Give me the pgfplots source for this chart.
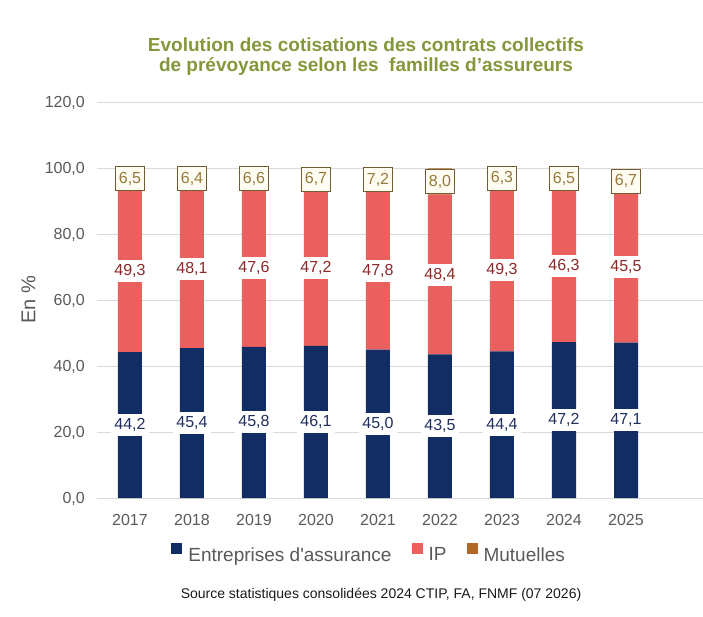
\documentclass[border=0pt]{standalone}
\usepackage{pgfplots}
\pgfplotsset{compat=1.18}
\usepackage{pgfplotstable}
\usepackage{fontspec}
\setmainfont{Liberation Sans}
\definecolor{navy}{RGB}{18,44,100}
\definecolor{ipred}{RGB}{233,96,94}
\definecolor{mutbrown}{RGB}{178,104,40}
\definecolor{titleolive}{RGB}{132,151,60}
\definecolor{tickgray}{RGB}{89,89,89}
\definecolor{navytext}{RGB}{31,47,94}
\definecolor{iptext}{RGB}{140,40,40}
\definecolor{muttext}{RGB}{150,122,60}
\definecolor{mutborder}{RGB}{115,92,50}
\definecolor{mutfill}{RGB}{255,252,242}
\pgfplotstableread{
x year ent ip mut
0 2017 44.2 49.3 6.5
1 2018 45.4 48.1 6.4
2 2019 45.8 47.6 6.6
3 2020 46.1 47.2 6.7
4 2021 45.0 47.8 7.2
5 2022 43.5 48.4 8.0
6 2023 44.4 49.3 6.3
7 2024 47.2 46.3 6.5
8 2025 47.1 45.5 6.7
}\datatable
\begin{document}
\begin{tikzpicture}
\path[use as bounding box] (0,0) rectangle (703pt,616pt);
\begin{axis}[
  at={(97pt,118pt)}, anchor=south west,
  scale only axis, width=606pt, height=396pt,
  ybar stacked, bar width=24pt,
  xmin=-0.532, xmax=9.242, ymin=0, ymax=120,
  ytick={0,20,...,120},
  xtick={0,...,8},
  xticklabels={2017,2018,2019,2020,2021,2022,2023,2024,2025},
  ymajorgrids, grid style={draw=black!15, line width=0.8pt},
  axis line style={draw=none},
  major tick length=0pt,
  clip=false,
  /pgf/number format/.cd, assume math mode=true, use comma, fixed, fixed zerofill, precision=1,
  /pgfplots/.cd,
  ticklabel style={font=\fontsize{16}{19}\selectfont, text=tickgray},
  yticklabel style={anchor=base east, inner sep=0pt, xshift=-12pt, yshift=-5.8pt},
  xticklabel style={anchor=base, inner sep=0pt, yshift=-27pt},
  ylabel={En \%},
  ylabel style={at={(axis description cs:-0.113,0.5)}, anchor=center, font=\fontsize{20}{24}\selectfont, text=tickgray},
  legend columns=3,
  legend style={draw=none, fill=none, at={(axis description cs:0.449,-0.141)}, anchor=center,
    font=\fontsize{19}{22}\selectfont, text=tickgray,
    /tikz/every odd column/.append style={column sep=4pt},
    /tikz/every even column/.append style={column sep=18pt}},
  legend image code/.code={\fill[#1] (0pt,1pt) rectangle (11pt,12pt);},
  nodes near coords,
  nodes near coords style={font=\fontsize{16}{19}\selectfont, anchor=center,
    text height=11.5pt, text depth=2.5pt},
]
\addplot[fill=navy, draw=none,
  every node near coord/.append style={fill=white, text=navytext, inner xsep=3.5pt, inner ysep=4pt}]
  table[x=x, y=ent] {\datatable};
\addlegendentry{Entreprises d\textquotesingle assurance}
\addplot[fill=ipred, draw=none,
  every node near coord/.append style={fill=white, text=iptext, inner xsep=3.5pt, inner ysep=4pt}]
  table[x=x, y=ip] {\datatable};
\addlegendentry{IP}
\addplot[fill=mutbrown, draw=none,
  every node near coord/.append style={fill=mutfill, draw=mutborder, line width=0.8pt, text=muttext,
    inner xsep=3.5pt, inner ysep=5pt}]
  table[x=x, y=mut] {\datatable};
\addlegendentry{Mutuelles}
\end{axis}
\node[anchor=base, font=\bfseries\fontsize{19}{23}\selectfont, text=titleolive] at (366pt,564pt) {Evolution des cotisations des contrats collectifs};
\node[anchor=base, font=\bfseries\fontsize{19}{23}\selectfont, text=titleolive] at (366pt,544pt) {de prévoyance selon les\ \ familles d’assureurs};
\node[anchor=base, font=\fontsize{14}{17}\selectfont, text=black!90] at (381pt,18pt) {Source statistiques consolidées 2024 CTIP, FA, FNMF (07 2026)};
\end{tikzpicture}
\end{document}
